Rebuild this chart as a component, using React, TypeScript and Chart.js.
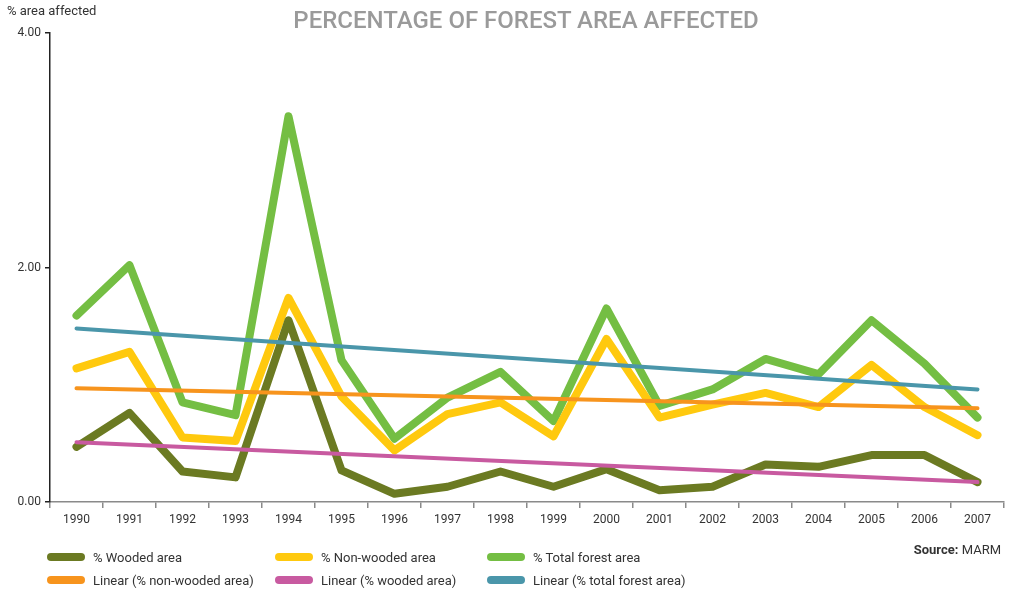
import React, { useEffect, useRef } from "react";
import { Chart, registerables } from "chart.js";

Chart.register(...registerables);

// Years on the horizontal axis
const years = [
  "1990", "1991", "1992", "1993", "1994", "1995", "1996", "1997", "1998",
  "1999", "2000", "2001", "2002", "2003", "2004", "2005", "2006", "2007",
];

// Percentage of area affected per year
const woodedArea = [0.47, 0.76, 0.26, 0.21, 1.55, 0.27, 0.07, 0.13, 0.26, 0.13, 0.28, 0.1, 0.13, 0.32, 0.3, 0.4, 0.4, 0.17];
const nonWoodedArea = [1.14, 1.28, 0.55, 0.52, 1.74, 0.9, 0.44, 0.75, 0.85, 0.56, 1.39, 0.72, 0.83, 0.93, 0.81, 1.17, 0.81, 0.57];
const totalForestArea = [1.59, 2.02, 0.85, 0.74, 3.29, 1.21, 0.54, 0.89, 1.11, 0.69, 1.65, 0.82, 0.96, 1.22, 1.09, 1.55, 1.18, 0.72];

// Linear trend lines: start (1990) and end (2007) values
const trendNonWooded = [0.97, 0.8];
const trendWooded = [0.51, 0.17];
const trendTotal = [1.48, 0.96];

// Y axis tick values
const yTicks = [0, 2, 4];

const COLORS = {
  wooded: "#6b7a22",
  nonWooded: "#ffc90e",
  total: "#74be43",
  trendNonWooded: "#f7941d",
  trendWooded: "#c85aa0",
  trendTotal: "#4a96aa",
};

const FONT = "Roboto, 'DejaVu Sans', sans-serif";

function trendSeries(ends: number[]): (number | null)[] {
  return years.map((_, i) => (i === 0 ? ends[0] : i === years.length - 1 ? ends[1] : null));
}

const legendItems = [
  { label: "% Wooded area", color: COLORS.wooded },
  { label: "% Non-wooded area", color: COLORS.nonWooded },
  { label: "% Total forest area", color: COLORS.total },
  { label: "Linear (% non-wooded area)", color: COLORS.trendNonWooded },
  { label: "Linear (% wooded area)", color: COLORS.trendWooded },
  { label: "Linear (% total forest area)", color: COLORS.trendTotal },
];

export default function App() {
  const canvasRef = useRef<HTMLCanvasElement | null>(null);

  useEffect(() => {
    if (!canvasRef.current) return;
    const mainLine = {
      borderWidth: 8,
      pointRadius: 0,
      borderJoinStyle: "round" as const,
      borderCapStyle: "round" as const,
      tension: 0,
      fill: false,
    };
    const trendLine = {
      borderWidth: 4,
      pointRadius: 0,
      borderCapStyle: "round" as const,
      spanGaps: true,
      tension: 0,
      fill: false,
    };
    const chart = new Chart(canvasRef.current, {
      type: "line",
      data: {
        labels: years,
        datasets: [
          { label: "% Total forest area", data: totalForestArea, borderColor: COLORS.total, order: 4, ...mainLine },
          { label: "% Non-wooded area", data: nonWoodedArea, borderColor: COLORS.nonWooded, order: 3, ...mainLine },
          { label: "% Wooded area", data: woodedArea, borderColor: COLORS.wooded, order: 2, ...mainLine },
          { label: "Linear (% non-wooded area)", data: trendSeries(trendNonWooded), borderColor: COLORS.trendNonWooded, order: 1, ...trendLine },
          { label: "Linear (% wooded area)", data: trendSeries(trendWooded), borderColor: COLORS.trendWooded, order: 0, ...trendLine },
          { label: "Linear (% total forest area)", data: trendSeries(trendTotal), borderColor: COLORS.trendTotal, order: 0, ...trendLine },
        ],
      },
      options: {
        responsive: false,
        animation: false,
        layout: { padding: { left: 0, top: 33, right: 7, bottom: 58 } },
        plugins: { legend: { display: false }, tooltip: { enabled: false }, title: { display: false } },
        scales: {
          x: {
            offset: true,
            grid: { offset: true, drawOnChartArea: false, tickLength: 6, color: "#8a8a8a", lineWidth: 1.5 },
            border: { color: "#8a8a8a", width: 1.5 },
            ticks: { font: { family: FONT, size: 12 }, color: "#333", padding: 5, maxRotation: 0, autoSkip: false },
            afterFit: (s: any) => { s.height = 30; },
          },
          y: {
            min: 0,
            max: 4,
            afterBuildTicks: (s: any) => { s.ticks = yTicks.map((v) => ({ value: v })); },
            ticks: { font: { family: FONT, size: 12 }, color: "#333", padding: 4, callback: (v: any) => Number(v).toFixed(2) },
            grid: { drawOnChartArea: false, tickLength: 5, color: "#222", lineWidth: 1.5 },
            border: { color: "#222", width: 1.5 },
            afterFit: (s: any) => { s.width = 50; },
          },
        },
      },
    });
    return () => chart.destroy();
  }, []);

  const colX = [47, 275, 487];
  const rowY = [557, 580];

  return (
    <div style={{ position: "absolute", left: 0, top: 0, width: 1011, height: 590, background: "#fff", fontFamily: FONT, overflow: "hidden" }}>
      <canvas ref={canvasRef} width={1011} height={590} style={{ position: "absolute", left: 0, top: 0 }} />
      <div style={{ position: "absolute", left: 7, top: 3, fontSize: 13, color: "#333" }}>% area affected</div>
      <div style={{ position: "absolute", left: 0, width: 1052, top: 6, textAlign: "center", fontSize: 24, color: "#9a9a9a", fontWeight: 500 }}>
        PERCENTAGE OF FOREST AREA AFFECTED
      </div>
      {legendItems.map((item, i) => {
        const x = colX[i % 3];
        const y = rowY[Math.floor(i / 3)];
        return (
          <div key={item.label} style={{ position: "absolute", left: x, top: y - 9, height: 18, display: "flex", alignItems: "center", fontSize: 13, color: "#333", whiteSpace: "nowrap" }}>
            <span style={{ display: "inline-block", width: 38, height: 8, borderRadius: 4, background: item.color, marginRight: 8 }} />
            {item.label}
          </div>
        );
      })}
      <div style={{ position: "absolute", right: 10, top: 542, fontSize: 13, color: "#333" }}>
        <b>Source:</b> MARM
      </div>
    </div>
  );
}
